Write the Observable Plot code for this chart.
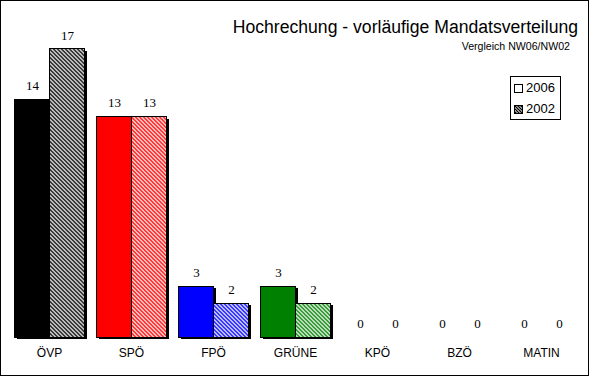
<!DOCTYPE html>
<html><head><meta charset="utf-8">
<script src="https://cdn.jsdelivr.net/npm/d3@7"></script>
<script src="https://cdn.jsdelivr.net/npm/@observablehq/plot@0.6"></script>
<style>
body{margin:0;background:#fff;}
#wrap{position:relative;width:589px;height:376px;overflow:hidden;font-family:"Liberation Sans",Arial,sans-serif;background:#fff;}
#chart{position:absolute;left:0;top:0;}
#frame{position:absolute;left:0;top:0;width:587px;height:374px;border:1px solid #000;pointer-events:none;}
#title{position:absolute;right:11px;top:18px;font-size:17.6px;line-height:18px;white-space:nowrap;color:#000;}
#subtitle{position:absolute;right:19px;top:41px;font-size:10.6px;line-height:10px;white-space:nowrap;color:#000;}
#legend{position:absolute;left:510px;top:76px;width:49px;height:42px;border:1px solid #000;background:#fff;}
.item{position:absolute;left:3px;height:14px;display:flex;align-items:center;font-size:13px;line-height:14px;}
.item svg{margin-right:3px;}
</style>
</head><body>
<div id="wrap">
  <div id="chart"></div>
  <div id="title">Hochrechung - vorläufige Mandatsverteilung</div>
  <div id="subtitle">Vergleich NW06/NW02</div>
  <div id="legend"></div>
  <div id="frame"></div>
</div>
<script>
const parties = ["ÖVP","SPÖ","FPÖ","GRÜNE","KPÖ","BZÖ","MATIN"];
const years = ["2006","2002"];
const seats2006 = [14,13,3,3,0,0,0];
const seats2002 = [17,13,2,2,0,0,0];
const partyColors = ["#000000","#ff0000","#0000ff","#008000","#000000","#000000","#000000"];

const rows = [];
parties.forEach((p, i) => {
  rows.push({party: p, year: years[0], seats: seats2006[i], fill: partyColors[i]});
  rows.push({party: p, year: years[1], seats: seats2002[i], fill: `url(#hatch-${i})`});
});

const plot = Plot.plot({
  width: 589,
  height: 376,
  marginLeft: 1.5,
  marginRight: 1,
  marginTop: 15,
  marginBottom: 39,
  style: {fontFamily: '"Liberation Sans", Arial, sans-serif', fontSize: "12px", background: "transparent"},
  fx: {domain: parties, paddingInner: 0.146, paddingOuter: 0.146, label: null, tickSize: 0, tickPadding: 11, axis: "bottom"},
  x: {domain: years, padding: 0, axis: null},
  y: {domain: [0, 19], axis: null},
  color: {type: "identity"},
  marks: [
    Plot.barY(rows, {fx: "party", x: "year", y: "seats", fill: "#000", dx: 2, dy: 2, shapeRendering: "crispEdges"}),
    Plot.barY(rows, {fx: "party", x: "year", y: "seats", fill: "fill", stroke: "#000", strokeWidth: 1, shapeRendering: "crispEdges"}),
    Plot.text(rows, {fx: "party", x: "year", y: "seats", text: d => String(d.seats), dy: -14,
      fontFamily: '"Liberation Serif", "Times New Roman", serif', fontSize: 13, fill: "#000"})
  ]
});

const ns = "http://www.w3.org/2000/svg";
const defs = document.createElementNS(ns, "defs");
defs.innerHTML = partyColors.map((c, i) =>
  `<pattern id="hatch-${i}" patternUnits="userSpaceOnUse" width="4" height="4">
     <rect width="4" height="4" fill="#fff"/>
     <path d="M-1,-1L5,5M-1,3L1,5M3,-1L5,1" stroke="${c}" stroke-width="1.5"/>
   </pattern>`).join("");
plot.insertBefore(defs, plot.firstChild);
document.getElementById("chart").appendChild(plot);

const legend = document.getElementById("legend");
const swatches = [
  `<svg width="9" height="9"><rect x="0.5" y="0.5" width="8" height="8" fill="#fff" stroke="#000"/></svg>`,
  `<svg width="9" height="9"><defs><pattern id="lg2" patternUnits="userSpaceOnUse" width="3" height="3"><rect width="3" height="3" fill="#fff"/><path d="M-1,-1L4,4M-1,2L1,4M2,-1L4,1" stroke="#000" stroke-width="1.3"/></pattern></defs><rect x="0.5" y="0.5" width="8" height="8" fill="url(#lg2)" stroke="#000"/></svg>`
];
years.forEach((y, i) => {
  const d = document.createElement("div");
  d.className = "item";
  d.style.top = (4 + i * 21) + "px";
  d.innerHTML = swatches[i] + `<span>${y}</span>`;
  legend.appendChild(d);
});
</script>
</body></html>
